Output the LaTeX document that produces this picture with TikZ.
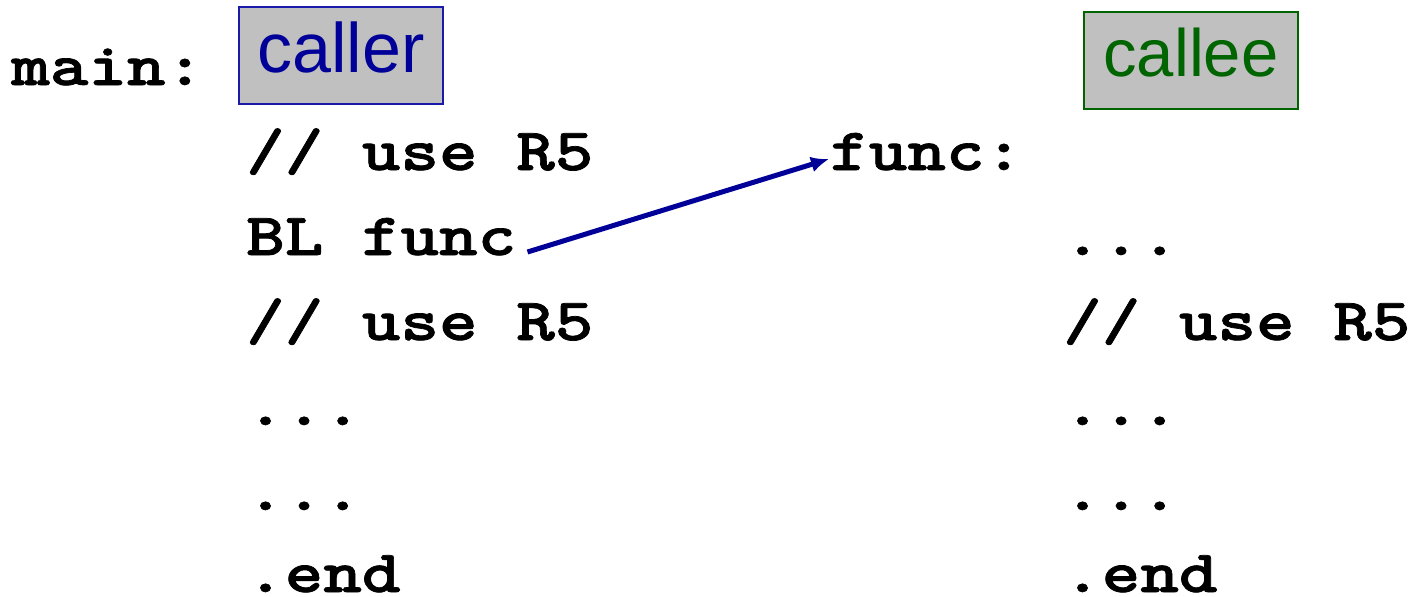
\documentclass[tikz,border=0pt]{standalone}
\usepackage{fontspec}
\usetikzlibrary{arrows.meta}
\setmainfont{Liberation Sans}
\newfontfamily\codefont{lmmonolt10-bold.otf}[FakeStretch=1.225,FakeBold=1.2]
\definecolor{callerblue}{HTML}{000099}
\definecolor{callerframe}{HTML}{1A1AAA}
\definecolor{calleegreen}{HTML}{006400}
\definecolor{boxgray}{HTML}{C0C0C0}
\begin{document}
\begin{tikzpicture}[x=1pt,y=-1pt,
  code/.style={anchor=base west,inner sep=0pt,font=\codefont\fontsize{60}{60}\selectfont},
  tag/.style={anchor=base,inner sep=0pt,fill=boxgray,line width=2pt},
  callarrow/.style={draw=callerblue,line width=5pt,-{Latex[length=18pt,width=16pt]}}]
\useasboundingbox (0,0) rectangle (1409,597);
% role labels
\node[tag,draw=callerframe,text=callerblue,font=\fontsize{70}{70}\selectfont,
  minimum width=204pt,text height=65pt,text depth=32pt] (caller) at (341,72) {caller};
\node[tag,draw=calleegreen,text=calleegreen,font=\fontsize{67}{67}\selectfont,
  minimum width=214pt,text height=64pt,text depth=33pt] (callee) at (1191,76) {callee};
% caller side
\node[code] (main) at (11,85) {main:};
\node[code] (c1) at (246,170) {// use R5};
\node[code] (c2) at (246,255) {BL func};
\node[code] (c3) at (246,340) {// use R5};
\node[code] (c4) at (246,425) {...};
\node[code] (c5) at (246,510) {...};
\node[code] (c6) at (246,592) {.end};
% callee side
\node[code] (func) at (830,170) {func:};
\node[code] (f1) at (1063,255) {...};
\node[code] (f2) at (1063,340) {// use R5};
\node[code] (f3) at (1063,425) {...};
\node[code] (f4) at (1063,510) {...};
\node[code] (f5) at (1063,592) {.end};
% branch-and-link jump
\coordinate (from) at ([xshift=11pt,yshift=3pt]c2.base east);
\draw[callarrow] (from) -- ([xshift=-1pt,yshift=11pt]func.base west);
\end{tikzpicture}
\end{document}
